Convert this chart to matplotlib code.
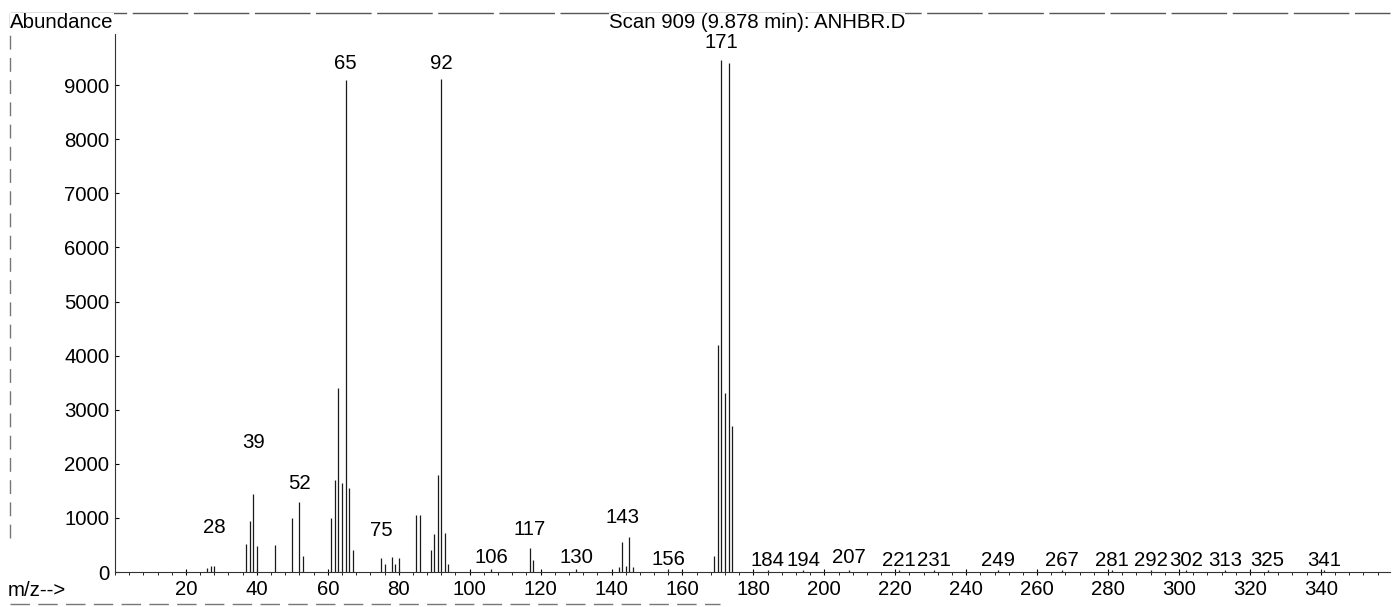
import matplotlib
matplotlib.use("Agg")
import matplotlib.pyplot as plt
from matplotlib.ticker import MultipleLocator
from matplotlib.lines import Line2D

plt.rcParams['font.family'] = ['Liberation Sans', 'DejaVu Sans']

# mass spectrum, scan 909
mz = [26, 27, 28, 37, 38, 39, 40, 45, 50, 52, 53,
      61, 62, 63, 64, 65, 66, 67,
      75, 76, 78, 79, 80, 85, 86, 89, 90, 91, 92, 93, 94,
      106, 117, 118, 130, 142, 143, 144, 145, 146, 156,
      169, 170, 171, 172, 173, 174,
      184, 194, 207, 221, 231, 249, 267, 281, 292, 302, 313, 325, 341]
abundance = [80, 120, 120, 520, 950, 1450, 480, 500, 1000, 1300, 300,
             1000, 1700, 3400, 1650, 9090, 1550, 400,
             250, 150, 280, 150, 250, 1050, 1050, 400, 710, 1800, 9110, 720, 150,
             60, 440, 220, 50, 100, 560, 120, 640, 100, 60,
             300, 4200, 9460, 3300, 9400, 2700,
             30, 30, 30, 30, 30, 30, 30, 30, 30, 30, 30, 30, 30]

# labelled peaks and the height of the bottom of each label
label_mz = [28, 39, 52, 65, 75, 92, 106, 117, 130, 143, 156, 171,
            184, 194, 207, 221, 231, 249, 267, 281, 292, 302, 313, 325, 341]
label_y = [650, 2220, 1460, 9220, 590, 9220, 90, 610, 90, 830, 60, 9620,
           40, 40, 100, 40, 40, 40, 40, 40, 40, 40, 40, 40, 40]

W, H = 1393, 607
FS = 14.7
fig = plt.figure(figsize=(W / 100, H / 100), dpi=100)
ax = fig.add_axes([115 / W, 1 - 572 / H, (1390 - 115) / W, (572 - 31) / H])

ax.vlines(mz, 0, abundance, color='#1a1a1a', lw=0.9)

for m, y in zip(label_mz, label_y):
    ax.text(m, y, str(m), ha='center', va='bottom', fontsize=FS)

ax.set_xlim(0, 359.5)
ax.set_ylim(0, 10000)
ax.set_yticks(range(0, 10000, 1000))
ax.xaxis.set_minor_locator(MultipleLocator(4))
ax.set_xticks(range(20, 360, 20))
ax.tick_params(axis='y', direction='in', length=3, pad=4, labelsize=FS)
ax.tick_params(axis='x', which='major', direction='inout', length=5, pad=3, labelsize=FS)
ax.tick_params(axis='x', which='minor', direction='out', length=2)
for s in ['top', 'right']:
    ax.spines[s].set_visible(False)
for s in ['left', 'bottom']:
    ax.spines[s].set_color('#333333')
    ax.spines[s].set_linewidth(0.8)
ax.spines['left'].set_bounds(0, 9950)

# page border from the printout
fig.add_artist(Line2D([10 / W, 1390 / W], [1 - 13 / H, 1 - 13 / H], color='#555555', lw=1.0, ls=(0, (40, 4))))
fig.add_artist(Line2D([10 / W, 10 / W], [1 - 13 / H, 1 - 545 / H], color='#777777', lw=1.0, ls=(0, (10, 6))))
fig.add_artist(Line2D([10 / W, 720 / W], [1 - 604 / H, 1 - 604 / H], color='#777777', lw=1.0, ls=(0, (14, 6))))

fig.text(10 / W, 1 - 22 / H, 'Abundance', ha='left', va='center', fontsize=FS,
         bbox=dict(facecolor='white', edgecolor='none', pad=0))
fig.text(757 / W, 1 - 22 / H, 'Scan 909 (9.878 min): ANHBR.D', ha='center', va='center', fontsize=FS,
         bbox=dict(facecolor='white', edgecolor='none', pad=0))
fig.text(8 / W, 1 - 590 / H, 'm/z-->', ha='left', va='center', fontsize=FS)

fig.savefig('out.png', dpi=100, facecolor='white')
